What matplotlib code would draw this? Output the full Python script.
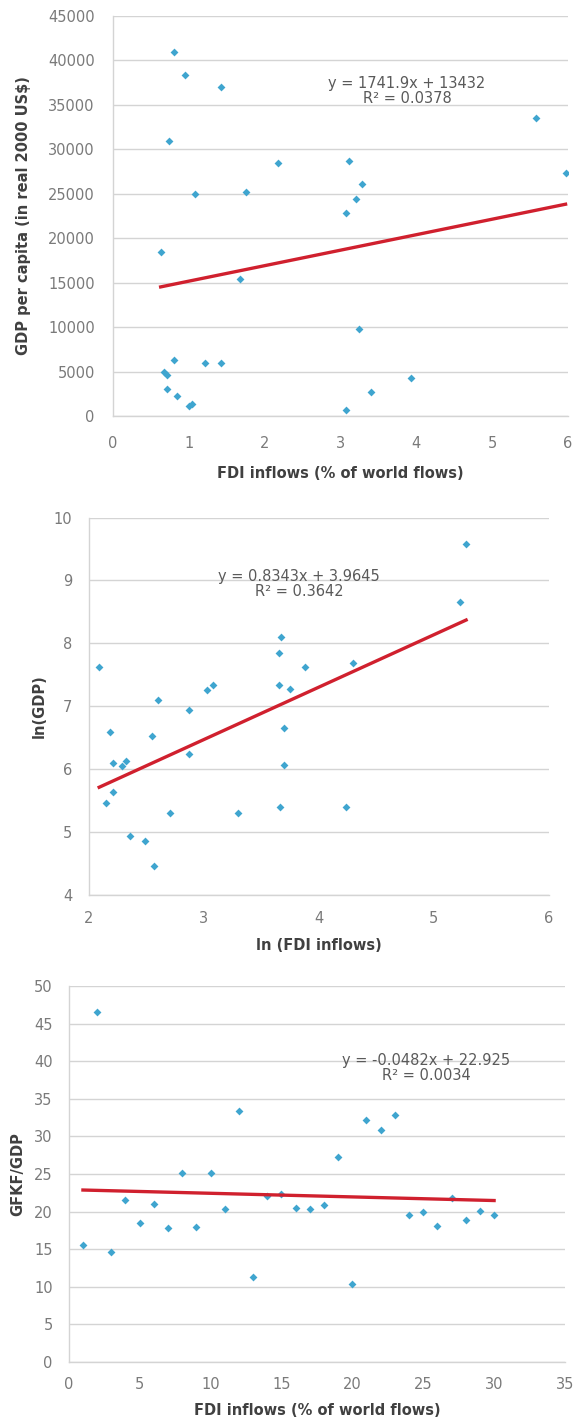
import numpy as np
import matplotlib
matplotlib.use("Agg")
import matplotlib.pyplot as plt

plt.rcParams['font.family'] = ['DejaVu Sans']

# panel 1: FDI inflows vs GDP per capita
fdi1 = [0.80, 0.95, 1.42, 0.74, 1.08, 1.76, 2.18, 3.12, 3.28, 3.20, 3.08, 5.58, 5.97,
        0.63, 1.68, 3.24, 0.81, 0.67, 0.71, 1.21, 1.42, 0.71, 0.84, 1.00, 1.05, 3.08, 3.40, 3.93]
gdp1 = [40900, 38400, 37000, 30900, 25000, 25150, 28450, 28700, 26100, 24400, 22850, 33500, 27300,
        18400, 15400, 9800, 6300, 5000, 4650, 6000, 6000, 3100, 2300, 1100, 1400, 700, 2700, 4300]
fit1 = (1741.9, 13432)

# panel 2: ln(FDI inflows) vs ln(GDP)
lnfdi = [5.28, 5.23, 3.67, 3.65, 3.88, 4.30, 3.65, 3.75, 2.09, 3.03, 3.08, 2.60, 2.87, 3.70,
         2.18, 2.55, 2.21, 2.32, 2.29, 2.87, 3.70, 2.21, 2.15, 2.71, 3.30, 3.66, 4.24, 2.36, 2.49, 2.57]
lngdp = [9.58, 8.66, 8.10, 7.85, 7.63, 7.69, 7.34, 7.28, 7.62, 7.26, 7.34, 7.10, 6.93, 6.65,
         6.58, 6.53, 6.09, 6.12, 6.05, 6.23, 6.06, 5.64, 5.45, 5.30, 5.30, 5.39, 5.40, 4.93, 4.86, 4.46]
fit2 = (0.8343, 3.9645)

# panel 3: FDI inflows vs GFKF/GDP
fdi3 = list(range(1, 31))
gfkf = [15.5, 46.5, 14.6, 21.5, 18.5, 21.0, 17.8, 25.2, 18.0, 25.1,
        20.4, 33.4, 11.3, 22.1, 22.4, 20.5, 20.3, 20.9, 27.3, 10.4,
        32.2, 30.8, 32.9, 19.6, 19.9, 18.1, 21.8, 18.9, 20.1, 19.6]
fit3 = (-0.0482, 22.925)

dot_c = '#3fa5cf'
line_c = '#d0202e'
tick_c = '#7a7a7a'
grid_c = '#d4d4d4'
lab_c = '#404040'

fig = plt.figure(figsize=(5.73, 14.2), dpi=100)


def style(ax, xpad, ypad):
    for s in ['top', 'right']:
        ax.spines[s].set_visible(False)
    for s in ['left', 'bottom']:
        ax.spines[s].set_color(grid_c)
        ax.spines[s].set_linewidth(1)
    ax.grid(axis='y', color=grid_c, linewidth=1)
    ax.set_axisbelow(True)
    ax.tick_params(axis='x', length=0, pad=xpad, labelsize=10.5, colors=tick_c)
    ax.tick_params(axis='y', length=0, pad=ypad, labelsize=10.5, colors=tick_c)


def panel(ax, x, y, fit, eq, eq_xy):
    ax.scatter(x, y, marker='D', s=16, color=dot_c, zorder=3, linewidths=0)
    xs = np.array([min(x), max(x)])
    ax.plot(xs, fit[0] * xs + fit[1], color=line_c, linewidth=2.4, zorder=4)
    ax.text(eq_xy[0], eq_xy[1], eq, ha='center', va='center', fontsize=10.5,
            color='#5a5a5a', linespacing=1.0)


def labels(ax, xl, yl, xc, yc):
    ax.set_ylabel(yl, fontsize=10.5, fontweight='bold', color=lab_c, va='center')
    ax.set_xlabel(xl, fontsize=10.5, fontweight='bold', color=lab_c, va='center')
    ax.yaxis.set_label_coords(yc, 0.5)
    ax.xaxis.set_label_coords(0.5, xc)


# --- panel 1
ax1 = fig.add_axes([0.197, 0.707, 0.794, 0.2817])
panel(ax1, fdi1, gdp1, fit1, 'y = 1741.9x + 13432\nR² = 0.0378', (3.88, 36600))
ax1.set_xlim(0, 6)
ax1.set_ylim(0, 45000)
ax1.set_yticks(np.arange(0, 45001, 5000))
style(ax1, 14, 13)
labels(ax1, 'FDI inflows (% of world flows)', 'GDP per capita (in real 2000 US$)', -0.1425, -0.196)

# --- panel 2
ax2 = fig.add_axes([0.155, 0.370, 0.803, 0.2655])
panel(ax2, lnfdi, lngdp, fit2, 'y = 0.8343x + 3.9645\nR² = 0.3642', (3.83, 8.94))
ax2.set_xlim(2, 6)
ax2.set_ylim(4, 10)
ax2.set_xticks([2, 3, 4, 5, 6])
style(ax2, 12, 12)
labels(ax2, 'ln (FDI inflows)', 'ln(GDP)', -0.135, -0.107)

# --- panel 3
ax3 = fig.add_axes([0.120, 0.0408, 0.866, 0.2648])
panel(ax3, fdi3, gfkf, fit3, 'y = -0.0482x + 22.925\nR² = 0.0034', (25.2, 39.1))
ax3.set_xlim(0, 35)
ax3.set_ylim(0, 50)
ax3.set_yticks(np.arange(0, 51, 5))
style(ax3, 11, 11.5)
labels(ax3, 'FDI inflows (% of world flows)', 'GFKF/GDP', -0.128, -0.103)

fig.savefig('out.png', dpi=100, facecolor='white')
